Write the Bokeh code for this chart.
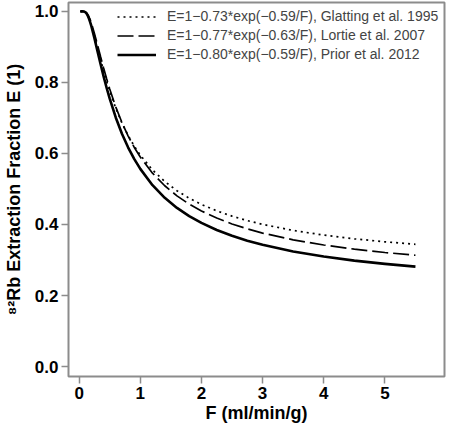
from bokeh.plotting import figure
from bokeh.models import Legend, LegendItem, FixedTicker, NumeralTickFormatter, Range1d
from bokeh.embed import file_html
from bokeh.resources import INLINE

# Flow values F (ml/min/g)
F = [0.02, 0.05, 0.08, 0.1, 0.12, 0.14, 0.16, 0.18, 0.2, 0.25, 0.3, 0.35, 0.4, 0.45, 0.5,
     0.6, 0.7, 0.8, 0.9, 1.0, 1.2, 1.4, 1.6, 1.8, 2.0, 2.25, 2.5, 2.75, 3.0, 3.5, 4.0, 4.5, 5.0, 5.5]

# Extraction fraction, Glatting et al. 1995
E_glatting = [1.0, 1.0, 0.99954, 0.99800, 0.99465, 0.98921, 0.98172, 0.97247, 0.96179, 0.93107,
              0.89786, 0.86472, 0.83299, 0.80325, 0.77569, 0.72694, 0.68575, 0.65083, 0.62102,
              0.59534, 0.55353, 0.52104, 0.49513, 0.47402, 0.45649, 0.43838, 0.42346, 0.41096,
              0.40033, 0.38324, 0.37011, 0.35970, 0.35125, 0.34426]

# Extraction fraction, Lortie et al. 2007
E_lortie = [1.0, 1.0, 0.99971, 0.99859, 0.99596, 0.99145, 0.98499, 0.97675, 0.96700, 0.93805,
            0.90571, 0.87272, 0.84061, 0.81012, 0.78159, 0.73055, 0.68694, 0.64967, 0.61763,
            0.58990, 0.54450, 0.50903, 0.48062, 0.45739, 0.43806, 0.41805, 0.40152, 0.38765,
            0.37585, 0.35684, 0.34221, 0.33059, 0.32116, 0.31334]

# Extraction fraction, Prior et al. 2012
E_prior = [1.0, 1.0, 0.99950, 0.99781, 0.99414, 0.98817, 0.97997, 0.96983, 0.95813, 0.92446,
           0.88806, 0.85175, 0.81698, 0.78438, 0.75418, 0.70075, 0.65562, 0.61735, 0.58468,
           0.55654, 0.51072, 0.47511, 0.44672, 0.42358, 0.40437, 0.38453, 0.36818, 0.35447,
           0.34283, 0.32410, 0.30971, 0.29830, 0.28904, 0.28138]

labels = ["E=1\u22120.73*exp(\u22120.59/F), Glatting et al. 1995",
          "E=1\u22120.77*exp(\u22120.63/F), Lortie et al. 2007",
          "E=1\u22120.80*exp(\u22120.59/F), Prior et al. 2012"]

x_ticks = [0, 1, 2, 3, 4, 5]
y_ticks = [0.0, 0.2, 0.4, 0.6, 0.8, 1.0]

FONT = "Liberation Sans"
GREY = "#8c8c8c"

p = figure(width=446, height=428, output_backend="svg", toolbar_location=None,
           x_range=Range1d(-0.174, 5.975), y_range=Range1d(-0.028, 1.025),
           min_border_left=63, min_border_right=2, min_border_top=2, min_border_bottom=52)

p.grid.visible = False
p.background_fill_color = "white"
p.border_fill_color = "white"
p.outline_line_color = GREY
p.outline_line_width = 2

r1 = p.line(F, E_glatting, line_color="black", line_width=1.7, line_dash="2 4")
r2 = p.line(F, E_lortie, line_color="black", line_width=1.7, line_dash="16 5")
r3 = p.line(F, E_prior, line_color="black", line_width=2.6, line_join="round")

for ax in (p.xaxis[0], p.yaxis[0]):
    ax.axis_line_color = None
    ax.major_tick_line_color = GREY
    ax.major_tick_line_width = 1.5
    ax.major_tick_out = 7
    ax.major_tick_in = 0
    ax.minor_tick_line_color = None
    ax.major_label_text_font = FONT
    ax.major_label_text_font_size = "17px"
    ax.major_label_text_font_style = "bold"
    ax.major_label_text_color = "black"
    ax.major_label_standoff = 3
    ax.axis_label_text_font = FONT
    ax.axis_label_text_font_size = "18px"
    ax.axis_label_text_font_style = "bold"
    ax.axis_label_text_color = "black"

p.xaxis.ticker = FixedTicker(ticks=x_ticks)
p.yaxis.ticker = FixedTicker(ticks=y_ticks)
p.yaxis.formatter = NumeralTickFormatter(format="0.0")
p.xaxis.axis_label = "F (ml/min/g)"
p.yaxis.axis_label = "\u2078\u00b2Rb Extraction Fraction E (1)"
p.xaxis.axis_label_standoff = 1
p.yaxis.axis_label_standoff = 8

legend = Legend(items=[LegendItem(label=labels[0], renderers=[r1]),
                       LegendItem(label=labels[1], renderers=[r2]),
                       LegendItem(label=labels[2], renderers=[r3])],
                location=(49, 313.5), padding=0, margin=0, spacing=2,
                glyph_width=39, glyph_height=17, label_height=17, label_standoff=11,
                label_text_font=FONT, label_text_font_size="14px",
                border_line_alpha=0, background_fill_alpha=0)
p.add_layout(legend)

open("out.html", "w").write(file_html(p, INLINE))
